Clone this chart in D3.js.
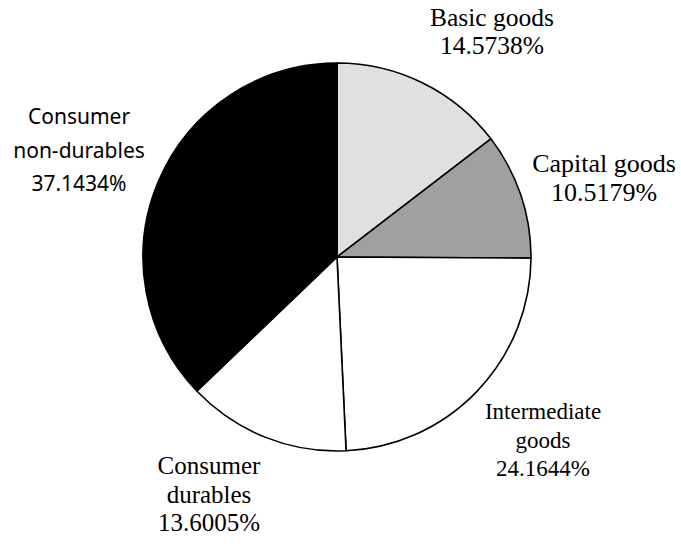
<!DOCTYPE html>
<html><head><meta charset="utf-8">
<script src="https://cdn.jsdelivr.net/npm/d3@7"></script>
<style>body{margin:0;background:#fff}svg{display:block}</style>
</head><body>
<script>
const categories = ["Basic goods","Capital goods","Intermediate goods","Consumer durables","Consumer non-durables"];
const values = [14.5738, 10.5179, 24.1644, 13.6005, 37.1434];
const valueLabels = ["14.5738%","10.5179%","24.1644%","13.6005%","37.1434%"];
const labelLines = [["Basic goods"],["Capital goods"],["Intermediate","goods"],["Consumer","durables"],["Consumer","non-durables"]];
const fills = ["#e0e0e0","#a0a0a0","#ffffff","#ffffff","#000000"];

const W=681,H=548, cx=337, cy=257, R=194;
const svg=d3.select("body").append("svg").attr("width",W).attr("height",H);
const g=svg.append("g").attr("transform",`translate(${cx},${cy})`);
const pie=d3.pie().sort(null).value(d=>d)(values);
const arc=d3.arc().innerRadius(0).outerRadius(R);
g.selectAll("path").data(pie).join("path")
 .attr("d",arc).attr("fill",(d,i)=>fills[i])
 .attr("stroke","#000").attr("stroke-width",1.6).attr("stroke-linejoin","round");

// label anchors (center x, first baseline, line pitch)
const labelPos=[[492,26,28],[604,172,28.5],[543,419,28.5],[209,474,28.5],[79,124,33.5]];
const fonts=["Liberation Serif","Liberation Serif","Liberation Serif","Liberation Serif","Noto Sans"];
const sizes=[25.5,26,23,25,21];
labelLines.forEach((lines,i)=>{
  const all=lines.concat([valueLabels[i]]);
  const t=svg.append("text").attr("text-anchor","middle")
    .attr("font-family",fonts[i]).attr("font-size",sizes[i]).attr("fill","#000");
  all.forEach((s,k)=>{
    t.append("tspan").attr("x",labelPos[i][0]).attr("y",labelPos[i][1]+k*labelPos[i][2]).text(s);
  });
});
</script>
</body></html>
